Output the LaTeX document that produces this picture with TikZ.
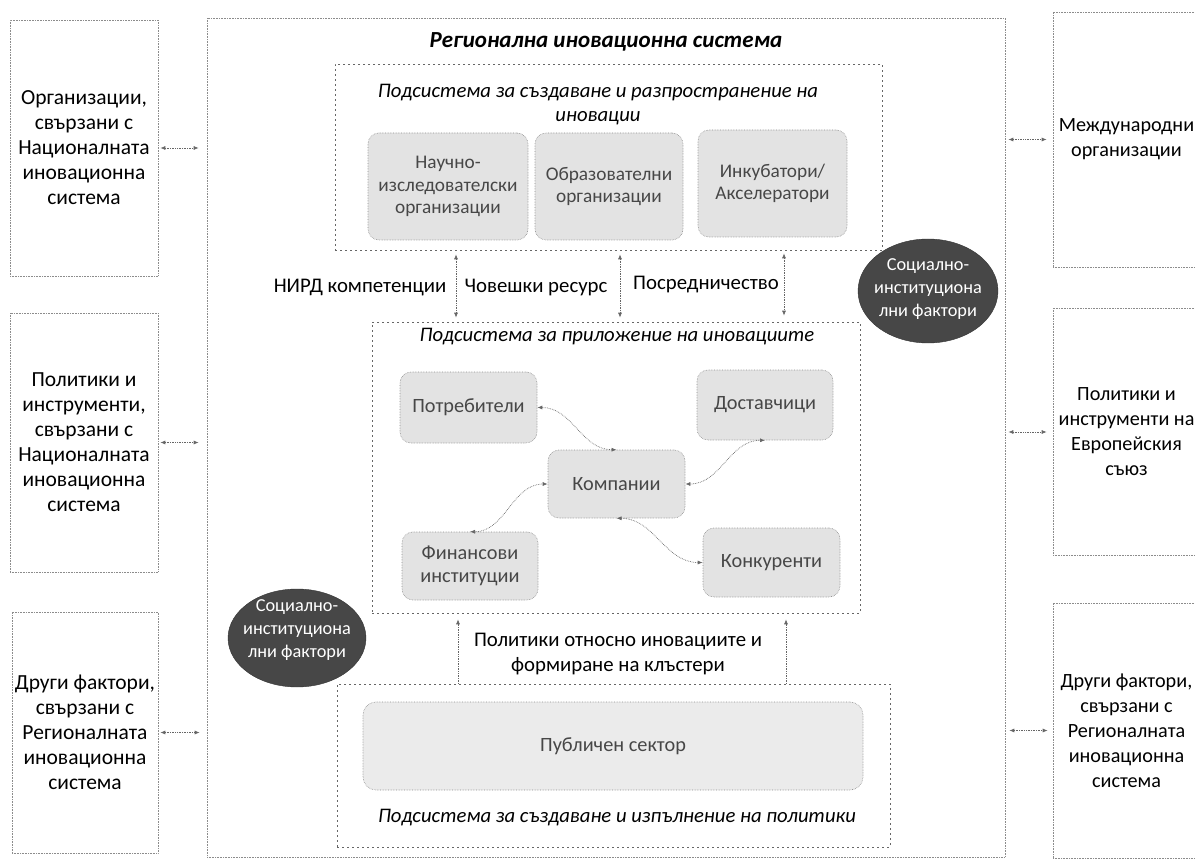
\documentclass[tikz,border=0pt]{standalone}
\usepackage{fontspec}
\setmainfont{Carlito}
\usetikzlibrary{arrows.meta,shapes.geometric}
\begin{document}
\begin{tikzpicture}[x=1pt,y=-1pt,
  font=\fontsize{21.5}{25}\selectfont,
  outerbox/.style={draw=black!45, line width=0.6pt, densely dotted, align=center, inner sep=0pt},
  subbox/.style={draw=black!60, line width=0.6pt, dash pattern=on 2pt off 3pt, inner sep=0pt},
  innerbox/.style={draw=black!45, line width=0.6pt, densely dotted, rounded corners=11pt, fill=black!11, align=center, inner sep=0pt, text=black!72},
  ellip/.style={ellipse, fill=black!72, draw=black!80, inner sep=0pt},
  elltext/.style={text=white, align=center, font=\fontsize{18.3}{23}\selectfont},
  subtitle/.style={align=center, font=\fontsize{20.7}{24}\selectfont\itshape},
  lbl/.style={align=center, font=\fontsize{20.8}{25}\selectfont},
  conn/.style={densely dotted, draw=black!60, line width=0.7pt, {Latex[length=5pt,width=4pt]}-{Latex[length=5pt,width=4pt]}},
  conn1/.style={densely dotted, draw=black!60, line width=0.7pt, -{Latex[length=5pt,width=4pt]}}
]
\useasboundingbox (0,0) rectangle (1195,861);

% main regional system box
\node[outerbox, minimum width=798, minimum height=839] (main) at (606,437.5) {};
\node[font=\fontsize{23}{26}\selectfont\bfseries\itshape] (title) at (606,42) {Регионална иновационна система};

% left boxes
\node[outerbox, minimum width=148, minimum height=256] (L1) at (84,148) {Организации,\\свързани с\\Националната\\иновационна\\система};
\node[outerbox, minimum width=148, minimum height=259] (L2) at (84,442.5) {Политики и\\инструменти,\\свързани с\\Националната\\иновационна\\система};
\node[outerbox, minimum width=146, minimum height=241] (L3) at (85,732.5) {Други фактори,\\свързани с\\Регионалната\\иновационна\\система};

% right boxes
\node[outerbox, minimum width=147, minimum height=255, font=\fontsize{20.2}{25}\selectfont] (R1) at (1126.5,139.5) {Международни\\организации};
\node[outerbox, minimum width=147, minimum height=247, font=\fontsize{20.2}{25}\selectfont] (R2) at (1126.5,432) {Политики и\\инструменти на\\Европейския\\съюз};
\node[outerbox, minimum width=147, minimum height=255, font=\fontsize{20.2}{25}\selectfont] (R3) at (1126.5,730.5) {Други фактори,\\свързани с\\Регионалната\\иновационна\\система};

% outer connectors
\draw[conn, shorten <=2pt, shorten >=8pt] (L1.east) -- (main.west |- L1.east);
\draw[conn, shorten <=2pt, shorten >=8pt] (L2.east) -- (main.west |- L2.east);
\draw[conn, shorten <=2pt, shorten >=7pt] (L3.east) -- (main.west |- L3.east);
\draw[conn, shorten <=3pt, shorten >=6pt] (main.east |- R1.west) -- (R1.west);
\draw[conn, shorten <=3pt, shorten >=6pt] (main.east |- R2.west) -- (R2.west);
\draw[conn, shorten <=4pt, shorten >=5pt] (main.east |- R3.west) -- (R3.west);

% creation & diffusion subsystem
\node[subbox, minimum width=547, minimum height=186] (topsys) at (608.5,157) {};
\node[subtitle] (toptitle) at (598,105) {Подсистема за създаване и разпространение на\\иновации};
\node[innerbox, minimum width=160, minimum height=107, font=\fontsize{19.3}{22.5}\selectfont] (n1) at (448,186.5) {Научно-\\изследователски\\организации};
\node[innerbox, minimum width=148, minimum height=107, font=\fontsize{19.3}{22.5}\selectfont] (n2) at (609,186.5) {Образователни\\организации};
\node[innerbox, minimum width=149, minimum height=107, font=\fontsize{19.3}{22.5}\selectfont] (n3) at (772.5,183.5) {Инкубатори/\\Акселератори};

% application subsystem
\node[subbox, minimum width=488, minimum height=291] (appsys) at (616,467.5) {};
\node[subtitle] (apptitle) at (617,337) {Подсистема за приложение на иновациите};
\node[innerbox, minimum width=137, minimum height=71, font=\fontsize{20.3}{23}\selectfont] (pot) at (468.5,407.5) {Потребители};
\node[innerbox, minimum width=136, minimum height=70, font=\fontsize{20.3}{23}\selectfont] (dost) at (765,405) {Доставчици};
\node[innerbox, minimum width=137, minimum height=68, font=\fontsize{20.3}{23}\selectfont] (komp) at (616.5,484) {Компании};
\node[innerbox, minimum width=136, minimum height=68, font=\fontsize{20.3}{23}\selectfont] (fin) at (470,566) {Финансови\\институции};
\node[innerbox, minimum width=137, minimum height=69, font=\fontsize{20.3}{23}\selectfont] (konk) at (771.5,562.5) {Конкуренти};

\draw[conn] (pot.east) to[out=0,in=180] (komp.north);
\draw[conn] (dost.south) to[out=180,in=0] (komp.east);
\draw[conn] (fin.north) to[out=0,in=180] (komp.west);
\draw[conn] (komp.south) to[out=0,in=180] (konk.west);

% vertical links between subsystems
\coordinate (a1) at (456,0);
\coordinate (a2) at (620,0);
\coordinate (a3) at (784,0);
\draw[conn, shorten <=4pt, shorten >=4pt] (topsys.south -| a1) -- (appsys.north -| a1);
\draw[conn, shorten <=4pt, shorten >=4pt] (topsys.south -| a2) -- (appsys.north -| a2);
\draw[conn, shorten <=3pt, shorten >=6pt] (topsys.south -| a3) -- (appsys.north -| a3);
\node[lbl] (nird) at (360,288) {НИРД компетенции};
\node[lbl] (hr) at (536,288) {Човешки ресурс};
\node[lbl] (mediation) at (706,285) {Посредничество};

% policy subsystem
\node[subbox, minimum width=553, minimum height=163] (polsys) at (613.5,765.5) {};
\node[innerbox, minimum width=500, minimum height=88, rounded corners=13pt, fill=black!8, font=\fontsize{20.3}{23}\selectfont] (pub) at (613,746) {Публичен сектор};
\node[subtitle] (poltitle) at (617,818) {Подсистема за създаване и изпълнение на политики};

\coordinate (p1) at (458,0);
\coordinate (p2) at (786,0);
\draw[conn1, shorten >=6pt] (polsys.north -| p1) -- (appsys.south -| p1);
\draw[conn1, shorten >=6pt] (polsys.north -| p2) -- (appsys.south -| p2);
\node[lbl] (pollbl) at (618,654.5) {Политики относно иновациите и\\формиране на клъстери};

% socio-institutional factors
\node[ellip, minimum width=140, minimum height=104] (e1) at (928,291) {};
\node[elltext] (e1t) at (928,289) {Социално-\\институциона\\лни фактори};
\node[ellip, minimum width=138, minimum height=98] (e2) at (297,638) {};
\node[elltext] (e2t) at (297,630) {Социално-\\институциона\\лни фактори};
\end{tikzpicture}
\end{document}
